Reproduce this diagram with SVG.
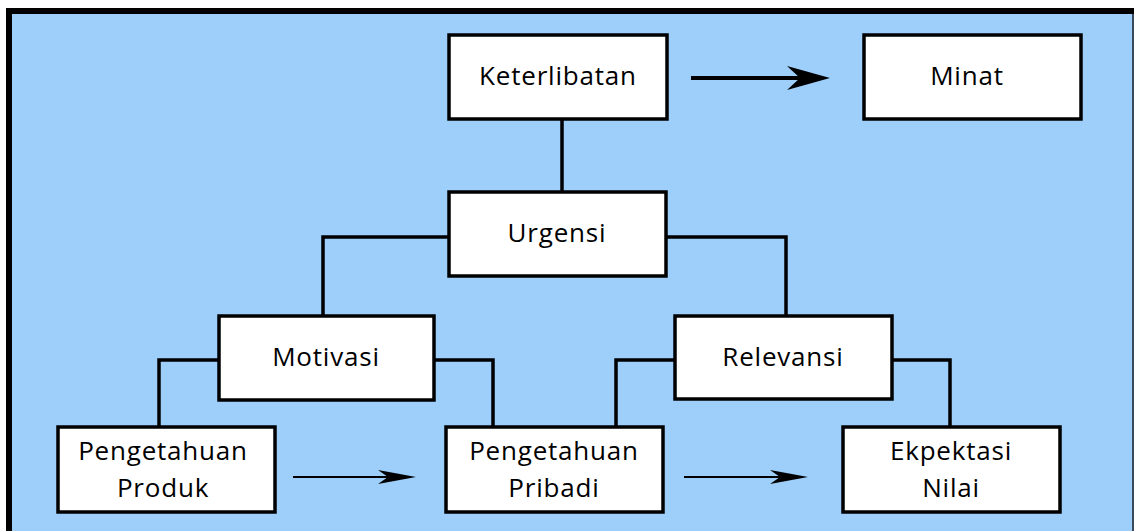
<svg xmlns="http://www.w3.org/2000/svg" width="1134" height="531" viewBox="0 0 1134 531">
<defs>
<style>
.box{fill:#ffffff;stroke:#000000;stroke-width:3.5}
.lbl{font-family:"Open Sans","Noto Sans","DejaVu Sans",sans-serif;font-size:26px;font-weight:500;letter-spacing:0.8px;fill:#000000;text-anchor:middle}
.con{fill:none;stroke:#000000;stroke-width:3.5}
.arr{fill:none;stroke:#000000}
.head{fill:#000000;stroke:none}
</style>
</defs>
<rect x="0" y="0" width="1134" height="531" fill="#ffffff"/>
<rect x="6" y="8" width="1128" height="523" fill="#000000"/>
<rect x="12" y="14" width="1120" height="517" fill="#9dcffa"/>
<rect x="1132" y="14" width="2" height="517" fill="#3a4a5a"/>

<g id="connectors">
<path class="con" d="M562,119 V192"/>
<path class="con" d="M449,237 H323 V316"/>
<path class="con" d="M666,237 H786 V316"/>
<path class="con" d="M219,360 H159 V427"/>
<path class="con" d="M434,360 H493 V427"/>
<path class="con" d="M675,360 H616 V427"/>
<path class="con" d="M892,360 H950 V427"/>
<line class="arr" x1="691" y1="78" x2="802" y2="78" stroke-width="4"/>
<path class="head" d="M787,66 L830,78 L787,90 L800,78 Z"/>
<line class="arr" x1="293" y1="477" x2="390" y2="477" stroke-width="2.2"/>
<path class="head" d="M378,470 L416,477 L378,484 L388,477 Z"/>
<line class="arr" x1="684" y1="477" x2="782" y2="477" stroke-width="2.2"/>
<path class="head" d="M770,470 L808,477 L770,484 L780,477 Z"/>
</g>

<g id="keterlibatan">
<rect class="box" x="449" y="35" width="218" height="84"/>
<text class="lbl" x="558" y="85">Keterlibatan</text>
</g>
<g id="minat">
<rect class="box" x="864" y="35" width="217" height="84"/>
<text class="lbl" x="967" y="85">Minat</text>
</g>
<g id="urgensi">
<rect class="box" x="449" y="192" width="217" height="84"/>
<text class="lbl" x="557" y="242">Urgensi</text>
</g>
<g id="motivasi">
<rect class="box" x="219" y="316" width="215" height="84"/>
<text class="lbl" x="326" y="366">Motivasi</text>
</g>
<g id="relevansi">
<rect class="box" x="675" y="316" width="217" height="83"/>
<text class="lbl" x="783" y="366">Relevansi</text>
</g>
<g id="pengetahuan-produk">
<rect class="box" x="58" y="427" width="217" height="85"/>
<text class="lbl" x="163" y="460">Pengetahuan</text>
<text class="lbl" x="163" y="497">Produk</text>
</g>
<g id="pengetahuan-pribadi">
<rect class="box" x="446" y="427" width="217" height="85"/>
<text class="lbl" x="554" y="460">Pengetahuan</text>
<text class="lbl" x="554" y="497">Pribadi</text>
</g>
<g id="ekpektasi-nilai">
<rect class="box" x="843" y="427" width="217" height="85"/>
<text class="lbl" x="951" y="460">Ekpektasi</text>
<text class="lbl" x="951" y="497">Nilai</text>
</g>
</svg>
